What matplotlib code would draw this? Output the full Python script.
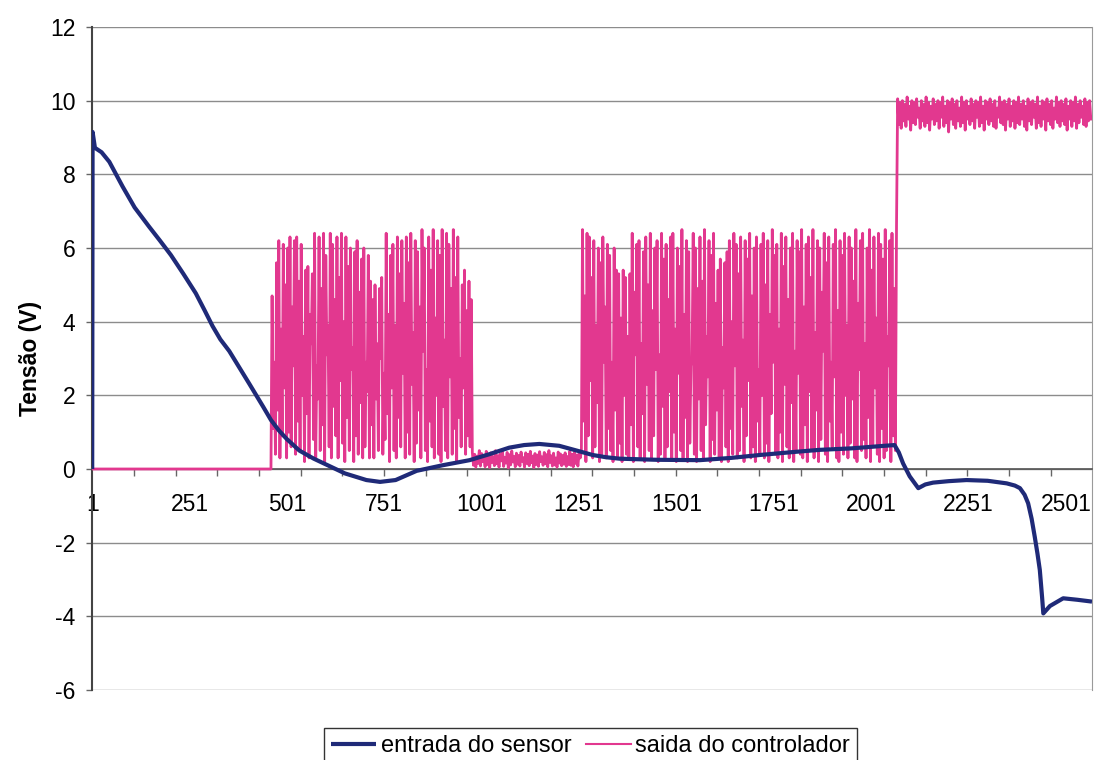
import numpy as np
import matplotlib.pyplot as plt

plt.rcParams['font.family'] = ['Liberation Sans', 'DejaVu Sans']
plt.rcParams['axes.unicode_minus'] = False

# sensor input (x = sample index, y = volts)
sensor_x = [1, 2, 8, 25, 45, 79, 110, 147, 175, 203, 235, 267, 290, 310, 330, 353,
            404, 440, 460, 480, 500, 533, 570, 602, 650, 705, 740, 780, 834, 900,
            970, 1020, 1072, 1110, 1149, 1200, 1252, 1286, 1320, 1355, 1450, 1561,
            1640, 1715, 1800, 1869, 1950, 2023, 2061, 2072, 2083, 2100, 2122, 2140,
            2160, 2200, 2246, 2300, 2349, 2370, 2383, 2395, 2404, 2413, 2421, 2428,
            2434, 2440, 2443, 2460, 2494, 2530, 2568]
sensor_y = [0.0, 9.15, 8.72, 8.6, 8.34, 7.67, 7.1, 6.58, 6.2, 5.81, 5.3, 4.77, 4.3,
            3.88, 3.52, 3.2, 2.32, 1.69, 1.33, 1.05, 0.82, 0.5, 0.28, 0.12, -0.12,
            -0.3, -0.35, -0.3, -0.05, 0.1, 0.24, 0.4, 0.58, 0.65, 0.68, 0.63, 0.48,
            0.38, 0.32, 0.28, 0.25, 0.24, 0.3, 0.38, 0.46, 0.52, 0.56, 0.62, 0.65,
            0.45, 0.15, -0.2, -0.52, -0.42, -0.37, -0.33, -0.30, -0.32, -0.39, -0.45,
            -0.52, -0.7, -0.93, -1.35, -1.84, -2.3, -2.74, -3.5, -3.92, -3.72, -3.51,
            -3.55, -3.6]

# controller output, one list per operating stretch
ctrl_edges = [1, 460, 977, 1257, 2069, 2568]

ctrl_idle = [0.0, 0.0]

burst1_hi = [4.7, 2.9, 5.6, 6.2, 3.8, 6.1, 5.0, 6.0, 6.3, 4.4, 6.2, 6.3, 5.1, 6.1, 3.6,
             5.4, 5.5, 4.2, 5.3, 6.4, 2.8, 6.3, 4.9, 6.4, 5.8, 3.9, 6.4, 6.1, 4.6, 6.3,
             5.2, 6.4, 4.0, 6.3, 5.5, 6.0, 3.3, 5.9, 6.2, 4.8, 5.7, 6.0, 2.9, 5.8, 5.1,
             4.6, 5.0, 3.4, 4.9, 5.2, 2.6, 6.4, 4.2, 5.8, 6.1, 3.9, 6.3, 5.3, 6.2, 4.5,
             6.3, 5.6, 6.4, 3.7, 6.2, 5.9, 4.4, 6.5, 6.0, 2.7, 6.3, 5.4, 6.5, 4.1, 6.2,
             5.8, 6.5, 3.5, 6.4, 6.1, 4.9, 6.5, 5.2, 6.3, 3.0, 5.0, 5.4, 4.3, 5.1, 4.6]
burst1_lo = [0.0, 1.1, 0.4, 1.6, 0.3, 0.9, 2.2, 0.3, 1.0, 0.6, 2.8, 0.4, 1.3, 0.5, 2.0,
             0.2, 1.5, 0.3, 3.4, 0.8, 0.3, 1.9, 0.5, 1.2, 0.2, 3.1, 0.6, 0.3, 1.7, 0.9,
             0.3, 2.4, 0.7, 0.2, 1.4, 0.5, 2.7, 0.2, 0.9, 0.4, 1.8, 0.3, 0.6, 2.1, 0.3,
             1.2, 0.3, 1.9, 0.5, 3.0, 0.4, 0.8, 1.5, 0.2, 2.2, 0.5, 0.3, 1.4, 0.6, 2.6,
             0.3, 1.0, 0.4, 2.3, 0.2, 0.7, 1.6, 0.3, 3.2, 0.5, 0.2, 1.3, 0.6, 0.3, 2.0,
             0.4, 0.2, 1.7, 0.5, 0.3, 2.5, 0.4, 1.1, 0.2, 1.4, 0.6, 2.2, 0.4, 0.9, 0.6]

quiet_band = [0.45, 0.10, 0.40, 0.05, 0.35, 0.15, 0.50, 0.08, 0.42, 0.20, 0.30, 0.06,
              0.48, 0.12, 0.38, 0.04, 0.44, 0.18, 0.33, 0.09, 0.50, 0.14, 0.36, 0.05,
              0.41, 0.22, 0.47, 0.07, 0.32, 0.16, 0.45, 0.03, 0.39, 0.11, 0.49, 0.19,
              0.34, 0.06, 0.43, 0.13, 0.37, 0.08, 0.46, 0.21, 0.31, 0.05, 0.44, 0.15,
              0.40, 0.09, 0.48, 0.17, 0.35, 0.04, 0.42, 0.12, 0.38, 0.07, 0.47, 0.20,
              0.33, 0.10, 0.45, 0.14, 0.39, 0.06, 0.50, 0.18, 0.36, 0.08, 0.43, 0.11,
              0.30, 0.05, 0.46, 0.16, 0.41, 0.09, 0.37, 0.13, 0.44, 0.07, 0.34, 0.12,
              0.48, 0.10, 0.40, 0.06, 0.45, 0.15, 0.38, 0.08, 0.42, 0.30]

burst2_hi = [6.5, 4.7, 6.4, 6.3, 5.2, 6.2, 3.9, 6.0, 5.6, 6.3, 4.4, 6.1, 5.8, 2.9, 6.0, 5.4, 5.3, 4.1, 5.4, 5.2,
             3.6, 5.3, 6.4, 4.8, 6.1, 6.2, 3.4, 5.9, 6.3, 5.0, 6.4, 4.3, 6.0, 6.2, 3.1, 6.4, 5.7, 6.1, 4.6, 6.3,
             6.4, 3.8, 6.0, 5.5, 6.5, 4.2, 6.2, 5.9, 2.8, 6.4, 6.0, 4.9, 6.3, 5.1, 6.5, 3.6, 6.2, 5.8, 6.4, 4.5,
             5.4, 5.7, 3.3, 5.6, 5.9, 6.2, 4.0, 6.4, 6.1, 5.3, 6.3, 3.5, 6.2, 5.7, 6.4, 4.7, 6.0, 6.3, 2.7, 6.1,
             6.4, 5.0, 6.2, 4.2, 6.5, 5.8, 6.1, 3.8, 6.4, 5.5, 6.3, 4.6, 6.0, 6.4, 3.2, 6.2, 5.9, 6.5, 4.4, 6.1,
             6.3, 5.2, 6.5, 3.7, 6.2, 6.0, 4.8, 6.4, 5.6, 6.3, 2.9, 6.1, 6.5, 4.3, 6.2, 5.8, 6.4, 3.9, 6.3, 6.0,
             5.1, 6.5, 4.5, 6.2, 6.4, 3.4, 6.0, 6.5, 5.4, 6.3, 4.1, 6.4, 6.1, 5.7, 6.5, 3.6, 6.2, 6.4, 4.9, 6.6]
burst2_lo = [0.5, 1.3, 0.2, 0.9, 2.4, 0.3, 0.6, 1.8, 0.2, 0.4, 2.9, 0.3, 1.1, 0.5, 0.2, 1.6, 0.3, 0.7, 0.2, 2.0,
             0.4, 0.3, 1.2, 0.2, 3.1, 0.6, 0.3, 1.5, 0.2, 2.3, 0.5, 0.3, 0.9, 2.7, 0.2, 0.4, 1.7, 0.3, 0.6, 2.1,
             0.3, 1.0, 0.2, 2.6, 0.5, 0.3, 1.4, 0.2, 0.7, 3.0, 0.4, 0.2, 1.9, 0.5, 0.3, 1.2, 2.5, 0.2, 0.8, 0.4,
             1.6, 0.3, 0.2, 2.2, 0.6, 0.2, 1.1, 0.4, 2.8, 0.3, 0.5, 1.7, 0.2, 0.9, 2.4, 0.3, 0.6, 0.2, 1.3, 0.4,
             2.0, 0.3, 0.7, 0.2, 1.5, 2.9, 0.4, 0.3, 1.0, 0.2, 2.3, 0.6, 0.3, 1.8, 0.2, 0.5, 2.6, 0.4, 0.3, 1.2,
             0.2, 2.1, 0.5, 0.3, 1.6, 0.2, 0.8, 3.2, 0.4, 0.2, 1.3, 0.6, 2.5, 0.3, 0.2, 1.0, 0.4, 2.0, 0.3, 0.7,
             1.9, 0.3, 0.2, 2.7, 0.5, 0.8, 0.3, 1.4, 0.2, 0.6, 2.2, 0.4, 0.2, 1.1, 0.3, 0.5, 2.8, 0.2, 0.9, 0.5]

saturated = [10.05, 9.35, 9.95, 9.25, 10.0, 9.45, 9.9, 9.3, 10.1, 9.5, 9.85, 9.2, 10.0, 9.4,
             9.95, 9.35, 10.05, 9.55, 9.8, 9.25, 10.0, 9.45, 9.9, 9.3, 10.1, 9.4, 9.95, 9.2,
             9.85, 9.5, 10.05, 9.35, 9.9, 9.45, 10.0, 9.25, 9.95, 9.55, 10.1, 9.3, 9.85, 9.4,
             10.0, 9.15, 9.95, 9.5, 10.05, 9.35, 9.9, 9.25, 10.0, 9.45, 9.8, 9.3, 10.1, 9.4,
             9.95, 9.2, 10.0, 9.5, 9.85, 9.35, 10.05, 9.45, 9.9, 9.25, 10.0, 9.55, 9.95, 9.3,
             10.1, 9.4, 9.85, 9.2, 10.0, 9.5, 9.95, 9.35, 10.05, 9.45, 9.9, 9.3, 10.0, 9.25,
             9.8, 9.55, 10.1, 9.4, 9.95, 9.35, 10.0, 9.2, 9.9, 9.5, 10.05, 9.3, 9.85, 9.45,
             10.0, 9.25, 9.95, 9.4, 10.1, 9.35, 9.9, 9.5, 10.0, 9.3, 9.85, 9.2, 10.05, 9.45,
             9.95, 9.35, 10.0, 9.55, 9.9, 9.25, 10.1, 9.4, 9.85, 9.3, 10.0, 9.5, 9.95, 9.2,
             10.05, 9.45, 9.9, 9.35, 10.0, 9.25, 9.8, 9.5, 10.1, 9.4, 9.95, 9.3, 10.0, 9.45,
             9.9, 9.35, 10.05, 9.2, 9.85, 9.5, 10.0, 9.3, 9.95, 9.45, 10.1, 9.25, 9.9, 9.4,
             10.0, 9.55, 9.85, 9.35, 10.05, 9.3, 9.95, 9.45, 10.0, 9.5]

x_labels = [1, 251, 501, 751, 1001, 1251, 1501, 1751, 2001, 2251, 2501]


def interleave(lo, hi):
    out = np.empty(len(lo) * 2)
    out[0::2] = lo
    out[1::2] = hi
    return out


segments = [np.array(ctrl_idle), interleave(burst1_lo, burst1_hi), np.array(quiet_band),
            interleave(burst2_lo, burst2_hi), np.array(saturated)]
ctrl_x = np.concatenate([np.linspace(ctrl_edges[i], ctrl_edges[i + 1], len(s), endpoint=False)
                         for i, s in enumerate(segments)])
ctrl_y = np.concatenate(segments)

fig = plt.figure(figsize=(10.94, 7.6), dpi=100)
ax = fig.add_axes([92 / 1094, 70 / 760, 1000 / 1094, 663 / 760])

navy = '#1f2a78'
pink = '#e2388f'

ax.plot(ctrl_x, ctrl_y, color=pink, lw=2.0, zorder=3, label='saida do controlador')
ax.plot(sensor_x, sensor_y, color=navy, lw=3.0, zorder=4, solid_capstyle='butt',
        solid_joinstyle='round', label='entrada do sensor')

ax.set_xlim(0.5, 2568)
ax.set_ylim(-6, 12)
ax.set_yticks(np.arange(-6, 13, 2))
ax.yaxis.grid(True, color='#8c8c8c', lw=1.0)
ax.set_axisbelow(True)

ax.spines['top'].set_visible(False)
ax.spines['right'].set_color('#9a9a9a')
ax.spines['left'].set_color('#444444')
ax.spines['left'].set_linewidth(1.5)
ax.spines['bottom'].set_position(('data', 0))
ax.spines['bottom'].set_color('#555555')
ax.spines['bottom'].set_linewidth(1.2)

ax.set_xticks(x_labels)
ax.set_xticklabels([str(v) for v in x_labels])
ax.set_xticks(np.arange(1, 2568, 107), minor=True)
ax.tick_params(axis='x', which='major', length=0, pad=17, labelsize=16.5)
ax.tick_params(axis='x', which='minor', length=5, width=1, color='#666666', direction='out')
ax.tick_params(axis='y', length=4, width=1, color='#666666', pad=8, labelsize=16.5)

ax.set_ylabel('Tensão (V)', fontsize=16.5, fontweight='bold', labelpad=6)

handles, labels = ax.get_legend_handles_labels()
leg = fig.legend(handles[::-1], labels[::-1], loc='upper center',
                 bbox_to_anchor=(0.540, 0.042), ncol=2, fontsize=17,
                 frameon=True, fancybox=False, edgecolor='#333333', framealpha=1,
                 handlelength=1.9, handletextpad=0.2, columnspacing=0.6,
                 borderpad=0.3, borderaxespad=0)
leg.get_frame().set_linewidth(1.0)
leg.get_lines()[1].set_linewidth(1.5)

fig.savefig('out.png', dpi=100)
